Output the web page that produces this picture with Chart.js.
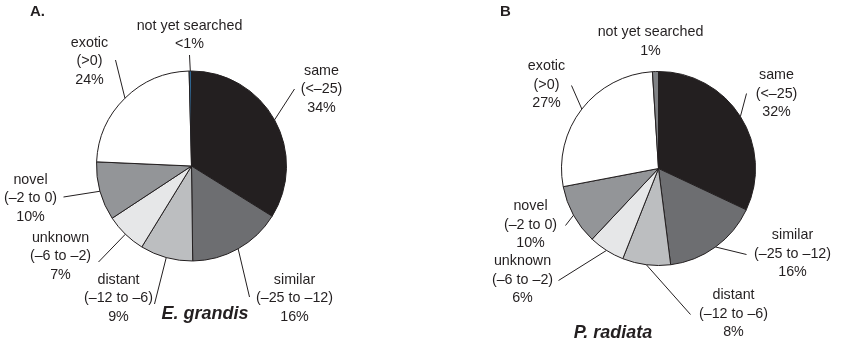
<!DOCTYPE html>
<html>
<head>
<meta charset="utf-8">
<script src="https://cdn.jsdelivr.net/npm/chart.js@4.4.1/dist/chart.umd.min.js"></script>
<style>
  html, body { margin: 0; padding: 0; background: #fff; }
  #wrap { position: relative; width: 844px; height: 344px; overflow: hidden; }
  canvas { position: absolute; top: 0; }
  #chartA { left: 0; }
  #chartB { left: 422px; }
</style>
</head>
<body>
<div id="wrap">
  <canvas id="chartA" width="422" height="344"></canvas>
  <canvas id="chartB" width="422" height="344"></canvas>
</div>
<script>
// categories, clockwise from 12 o'clock
const categories = ['same', 'similar', 'distant', 'unknown', 'novel', 'exotic', 'not yet searched'];
const ranges = ['(<–25)', '(–25 to –12)', '(–12 to –6)', '(–6 to –2)', '(–2 to 0)', '(>0)', ''];

const grandisValues = [34, 16, 9, 7, 10, 24, 0.4];
const grandisPct = ['34%', '16%', '9%', '7%', '10%', '24%', '<1%'];

const radiataValues = [32, 16, 8, 6, 10, 27, 1];
const radiataPct = ['32%', '16%', '8%', '6%', '10%', '27%', '1%'];

const sliceColors = ['#231f20', '#6d6e71', '#bcbec0', '#e6e7e8', '#939598', '#ffffff'];

// label layout: [text dx, text dy, line end dx, line end dy] relative to the pie centre
const grandisLayout = [
  [130, -95, 103, -77],
  [103, 114, 58, 131],
  [-73, 114, -37, 138],
  [-131, 72, -93, 96],
  [-161, 14, -128, 31],
  [-102, -123, -76, -106],
  [-2, -140, -2, -111]
];
const radiataLayout = [
  [118, -93, 88, -75],
  [134, 67, 88, 86],
  [75, 127, 32, 146],
  [-136, 93, -100, 112],
  [-128, 38, -93, 57],
  [-112, -102, -87, -83],
  [-8, -136, null, null]
];

const textColor = '#231f20';
const lineH = 18.5;

function labelPlugin(pct, layout, title, titlePos, letter, letterX) {
  return {
    id: 'leaderLabels',
    afterDraw(chart) {
      const ctx = chart.ctx;
      const arcs = chart.getDatasetMeta(0).data;
      ctx.save();
      ctx.strokeStyle = textColor;
      ctx.fillStyle = textColor;
      ctx.lineWidth = 1;
      arcs.forEach((arc, i) => {
        const p = arc.getProps(['x', 'y', 'startAngle', 'endAngle', 'outerRadius'], true);
        const l = layout[i];
        if (l[2] !== null) {
          const mid = (p.startAngle + p.endAngle) / 2;
          ctx.beginPath();
          ctx.moveTo(p.x + Math.cos(mid) * p.outerRadius, p.y + Math.sin(mid) * p.outerRadius);
          ctx.lineTo(p.x + l[2], p.y + l[3]);
          ctx.stroke();
        }
        const lines = ranges[i] ? [categories[i], ranges[i], pct[i]] : [categories[i], pct[i]];
        ctx.font = '14.3px "Liberation Sans", Arial, sans-serif';
        ctx.textAlign = 'center';
        ctx.textBaseline = 'middle';
        lines.forEach((t, k) => ctx.fillText(t, p.x + l[0], p.y + l[1] + k * lineH));
      });
      ctx.font = 'italic bold 18px "Liberation Sans", Arial, sans-serif';
      ctx.textAlign = 'center';
      ctx.fillText(title, titlePos[0], titlePos[1]);
      ctx.font = 'bold 15px "Liberation Sans", Arial, sans-serif';
      ctx.textAlign = 'left';
      ctx.fillText(letter, letterX, 12);
      ctx.restore();
    }
  };
}

function makePie(id, values, extraColor, padding, plugin) {
  return new Chart(document.getElementById(id).getContext('2d'), {
    type: 'pie',
    data: {
      labels: categories,
      datasets: [{
        data: values,
        backgroundColor: sliceColors.concat([extraColor]),
        borderColor: '#231f20',
        borderWidth: 1
      }]
    },
    options: {
      responsive: false,
      animation: false,
      events: [],
      layout: { padding: padding },
      plugins: { legend: { display: false }, tooltip: { enabled: false } }
    },
    plugins: [plugin]
  });
}

makePie('chartA', grandisValues, '#2f6590',
  { left: 96, right: 135, top: 70, bottom: 82 },
  labelPlugin(grandisPct, grandisLayout, 'E. grandis', [205, 314], 'A.', 30));

makePie('chartB', radiataValues, '#808285',
  { left: 139, right: 88, top: 71, bottom: 78 },
  labelPlugin(radiataPct, radiataLayout, 'P. radiata', [191, 333], 'B', 78));
</script>
</body>
</html>
